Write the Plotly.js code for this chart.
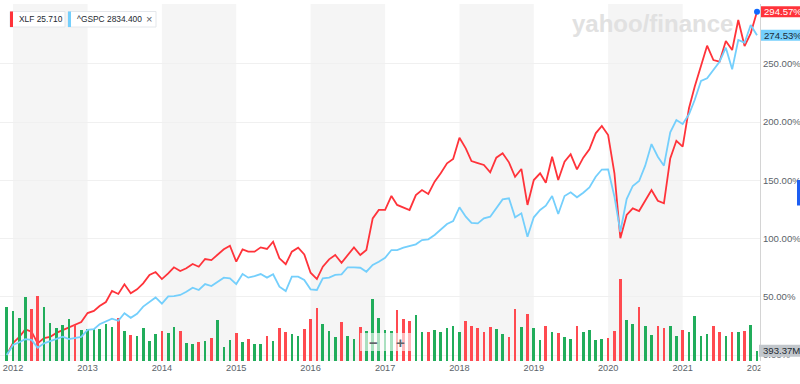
<!DOCTYPE html>
<html><head><meta charset="utf-8">
<script src="https://cdn.plot.ly/plotly-3.0.1.min.js"></script>
<style>html,body{margin:0;padding:0;background:#fff}#chart{width:800px;height:384px}</style>
</head><body><div id="chart"></div>
<script>
// ---- data (monthly, Dec 2011 .. Jan 2022) ----
const firstYear = 2011, firstMonth = 12;
const xlfPct = [0,10.3,15.5,22,20,10,14.6,15.5,19,21.5,
24,25.8,28.3,36,37.8,42,45.5,55,52.4,60.7,
53,56.4,61.5,68.7,71.2,65.2,70,75.3,72.1,74.4,
78.1,75.8,82.4,81.5,85.8,90.7,93.8,80.1,90.7,88.7,
88.7,92.4,91,97.3,83,77.9,88.7,92.1,86.4,70.6,
65.2,75.8,82.1,85.8,79.2,85.8,92.4,85.8,90.1,117.3,
124.5,124.5,136.5,128.8,126.8,124.5,137.3,141.6,138.2,148.8,
156,164.5,168.2,186.5,177.4,166.5,164.8,163.1,156.8,169.4,
173.1,165.4,153,159.7,128.8,150.2,156,147.9,170.2,150.2,
165.9,172.3,159.4,169.4,176.6,190.3,196.6,188.8,156,100.2,
120.2,125.9,123.6,133,141.6,132.4,130.2,168.8,183.9,178.8,
211.8,230.3,248.9,265.5,253.2,251.8,269.5,261.8,287.6,265.2,
276.1,294.57];
const gspcPct = [0,8.6,10.9,13.6,12.9,6.2,10,12,13.5,15.7,
13.7,14.6,15.5,21.5,22.1,26.4,29.2,31.2,29.4,35.8,
31.9,35.4,41.5,45.5,49.4,44.1,50.3,50.6,51.5,54.3,
57.8,55.8,60.9,59.2,62.4,66.4,65.8,60.9,69.5,66.4,
67.8,69.5,66.4,69.3,58.6,54.9,67.2,67.2,64.4,56.4,
55.8,65.8,66.5,68.7,69.3,75.3,75.3,74.9,71.5,77.3,
80.1,83.5,90.1,90.1,92.1,93.8,95,98.7,99.3,103,
107.3,112.4,115,126.8,118.7,113.5,113,117.3,118.7,125.9,
133.6,134.5,118.2,121.6,101.5,118.2,124.5,128.2,136.5,121,
136.5,139.7,135.4,139.3,143.9,153,159.2,159.4,135.9,105.8,
133.9,145.1,149.4,162.5,181.1,170.2,162.5,191.2,201.7,198.3,
206.6,218.9,235.2,237.5,244.6,251.8,263.8,245.2,270.4,268.1,
283.3,274.53];
const volumeM = [2051,1921,1631,2456,1974,2482,2074,1440,1249,1375,
1604,1375,1184,1211,1211,1211,1402,1287,1631,1146,
993,966,1249,775,1020,1157,1081,1287,1157,699,
649,726,764,867,1566,523,802,1058,714,840,
638,649,955,775,1260,1108,1031,955,1234,1615,
2013,1413,1134,928,1489,955,829,1287,1146,2356,
1642,1172,1157,1948,1593,1539,1745,1119,1119,1195,
1096,1249,1348,1119,1528,1337,1272,1096,1298,1222,
1020,905,1997,1298,1806,1249,802,1337,1096,1069,
928,829,1348,1119,1172,791,840,867,1146,3132,
1554,1424,2074,1325,993,1348,1249,1348,943,1195,
1119,1730,943,1043,1325,1096,966,1119,1096,1146,
1386,393.37];
// U = up month (green), D = down month (red)
const volumeDir = ('UUUUDDUUUU'+'UDUUUUUUDU'+'DUUUUDUUDU'+'UDUDUUUDUD'+'UUDUDDUUDD'+
                   'DUUUDUUDUU'+'UUUDDDUUDU'+'UUUUDDDDDU'+'UDDUDUUDUD'+'UUDUUUUDDD'+
                   'UUDUUDDUUD'+'UUUUDDUDUD'+'UU').split('');
const yearTicks = ['2012','2013','2014','2015','2016','2017','2018','2019','2020','2021','2022'];
const pctTicks = [0,50,100,150,200,250];
const shadedYears = ['2012','2014','2016','2018','2020'];
const legendXLF = 'XLF 25.710';
const legendGSPC = '^GSPC 2834.400';
const volumeLabel = '393.37M';

// ---- geometry ----
const W = 800, H = 384, L = 0, R = 40, T = 4, B = 23;
const PW = W - L - R, PH = H - T - B;
const xp = px => (px - L) / PW;
const yp = py => (H - B - py) / PH;

const months = xlfPct.map((_, i) => {
  const k = firstMonth - 1 + i;
  const y = firstYear + Math.floor(k / 12), m = k % 12 + 1;
  return y + '-' + String(m).padStart(2, '0') + '-01';
});
const last = xlfPct.length - 1;

const RED = '#ff333a', BLUE = '#74cffc', GREEN_BAR = '#21ad5b', RED_BAR = '#ff4a50';
const FONT = 'Liberation Sans, Arial, Helvetica, sans-serif';
const GRAY = '#5b636a';

const traces = [
  {x: months, y: xlfPct, type: 'scatter', mode: 'lines', yaxis: 'y',
   line: {color: RED, width: 1.8}, hoverinfo: 'skip'},
  {x: months, y: volumeM, type: 'bar', yaxis: 'y2', width: 13 * 86400000,
   marker: {color: volumeDir.map(d => d === 'U' ? GREEN_BAR : RED_BAR), line: {width: 0}},
   hoverinfo: 'skip'},
  {x: months, y: gspcPct, type: 'scatter', mode: 'lines', yaxis: 'y3',
   line: {color: BLUE, width: 1.8}, hoverinfo: 'skip'},
  {x: [months[last]], y: [xlfPct[last]], type: 'scatter', mode: 'markers', yaxis: 'y3',
   marker: {color: '#0f69ff', size: 6}, hoverinfo: 'skip'}
];

const pctRange = [-5.15, 301.3];
const shapes = [];
shadedYears.forEach(y => shapes.push({
  type: 'rect', xref: 'x', yref: 'paper', x0: y + '-01-01', x1: (+y + 1) + '-01-01',
  y0: 0, y1: 1, fillcolor: '#f5f5f5', line: {width: 0}, layer: 'below'}));
// watermark
shapes.push({type: 'rect', xref: 'paper', yref: 'paper', x0: xp(569), x1: xp(760), y0: yp(34), y1: yp(8),
  fillcolor: 'rgba(0,0,0,0)', line: {width: 0}, layer: 'below',
  label: {text: 'yahoo/finance', textposition: 'middle left', padding: 0,
    font: {family: FONT, size: 24, color: '#e1e1e1', weight: 'bold'}}});
// legend chips
shapes.push({type: 'rect', xref: 'paper', yref: 'paper', x0: xp(10), x1: xp(65), y0: yp(27), y1: yp(11.5),
  fillcolor: '#ffffff', line: {color: '#e4e7eb', width: 1}, layer: 'above'});
shapes.push({type: 'rect', xref: 'paper', yref: 'paper', x0: xp(10), x1: xp(13), y0: yp(27), y1: yp(11.5),
  fillcolor: RED, line: {width: 0}, layer: 'above'});
shapes.push({type: 'rect', xref: 'paper', yref: 'paper', x0: xp(68), x1: xp(156), y0: yp(27), y1: yp(11.5),
  fillcolor: '#ffffff', line: {color: '#e4e7eb', width: 1}, layer: 'above'});
shapes.push({type: 'rect', xref: 'paper', yref: 'paper', x0: xp(68), x1: xp(71), y0: yp(27), y1: yp(11.5),
  fillcolor: BLUE, line: {width: 0}, layer: 'above'});
// value boxes on right
shapes.push({type: 'rect', xref: 'paper', yref: 'y', ysizemode: 'pixel', yanchor: xlfPct[last],
  x0: xp(761), x1: xp(801), y0: -5.5, y1: 5.5, fillcolor: RED, line: {width: 0}, layer: 'above'});
shapes.push({type: 'rect', xref: 'paper', yref: 'y', ysizemode: 'pixel', yanchor: gspcPct[last],
  x0: xp(761), x1: xp(801), y0: -5.5, y1: 5.5, fillcolor: BLUE, line: {width: 0}, layer: 'above'});
shapes.push({type: 'rect', xref: 'paper', yref: 'y2', ysizemode: 'pixel', yanchor: volumeM[last],
  x0: xp(759), x1: xp(801), y0: -6, y1: 6, fillcolor: '#c2c7cc', line: {width: 0}, layer: 'above'});
// zoom control
shapes.push({type: 'rect', xref: 'paper', yref: 'paper', x0: xp(360), x1: xp(413), y0: yp(351), y1: yp(333),
  fillcolor: 'rgba(255,255,255,0.62)', line: {width: 0}, layer: 'above'});
// cover overflowing last year label
shapes.push({type: 'rect', xref: 'paper', yref: 'paper', x0: xp(760.5), x1: xp(805), y0: yp(384), y1: yp(361.5),
  fillcolor: '#ffffff', line: {width: 0}, layer: 'above'});
// blue edge tab
shapes.push({type: 'rect', xref: 'paper', yref: 'paper', x0: xp(797), x1: xp(801), y0: yp(205.5), y1: yp(180),
  fillcolor: '#1d5ef2', line: {width: 0}, layer: 'above'});

const annotations = [
  {xref: 'paper', yref: 'paper', x: xp(17), y: yp(19.5), xanchor: 'left', yanchor: 'middle',
   text: legendXLF, showarrow: false, font: {family: FONT, size: 8.4, color: '#232a31'}},
  {xref: 'paper', yref: 'paper', x: xp(75), y: yp(19.5), xanchor: 'left', yanchor: 'middle',
   text: legendGSPC, showarrow: false, font: {family: FONT, size: 8.4, color: '#232a31'}},
  {xref: 'paper', yref: 'paper', x: xp(148.5), y: yp(19.5), xanchor: 'center', yanchor: 'middle',
   text: '×', showarrow: false, font: {family: FONT, size: 11, color: '#5b636a'}},
  {xref: 'paper', yref: 'y', x: xp(762), y: xlfPct[last], xanchor: 'left', yanchor: 'middle',
   text: xlfPct[last].toFixed(2) + '%', showarrow: false, font: {family: FONT, size: 9.6, color: '#ffffff'}},
  {xref: 'paper', yref: 'y', x: xp(762), y: gspcPct[last], xanchor: 'left', yanchor: 'middle',
   text: gspcPct[last].toFixed(2) + '%', showarrow: false, font: {family: FONT, size: 9.6, color: '#1c2a36'}},
  {xref: 'paper', yref: 'y2', x: xp(761), y: volumeM[last], xanchor: 'left', yanchor: 'middle',
   text: volumeLabel, showarrow: false, font: {family: FONT, size: 9.6, color: '#232a31'}},
  {xref: 'paper', yref: 'paper', x: xp(373), y: yp(342), xanchor: 'center', yanchor: 'middle',
   text: '<b>−</b>', showarrow: false, font: {family: FONT, size: 15, color: '#5f6368'}},
  {xref: 'paper', yref: 'paper', x: xp(400), y: yp(342), xanchor: 'center', yanchor: 'middle',
   text: '<b>+</b>', showarrow: false, font: {family: FONT, size: 15, color: '#5f6368'}}
];

const layout = {
  width: W, height: H, margin: {l: L, r: R, t: T, b: B, pad: 0},
  paper_bgcolor: '#ffffff', plot_bgcolor: 'rgba(0,0,0,0)', showlegend: false,
  bargap: 0,
  xaxis: {type: 'date', range: ['2011-10-29', '2022-01-15 17:00'],
    tickvals: yearTicks.map(y => y + '-01-01'), ticktext: yearTicks,
    showgrid: false, zeroline: false, showline: false, ticks: '',
    tickfont: {family: FONT, size: 9.2, color: GRAY}, fixedrange: true},
  yaxis: {side: 'right', range: pctRange, tickvals: pctTicks,
    ticktext: pctTicks.map(v => v.toFixed(2) + '%'),
    showgrid: true, gridcolor: '#f0f0f0', gridwidth: 1, zeroline: false,
    showline: true, linecolor: '#d4d4d4', linewidth: 1, ticks: '',
    tickfont: {family: FONT, size: 9.6, color: GRAY}, fixedrange: true},
  yaxis2: {overlaying: 'y', range: [0, PH * (393.37 / 10.3)], visible: false, fixedrange: true},
  yaxis3: {overlaying: 'y', range: pctRange, visible: false, fixedrange: true},
  shapes: shapes, annotations: annotations
};

Plotly.newPlot('chart', traces, layout, {displayModeBar: false, staticPlot: true});
</script></body></html>
